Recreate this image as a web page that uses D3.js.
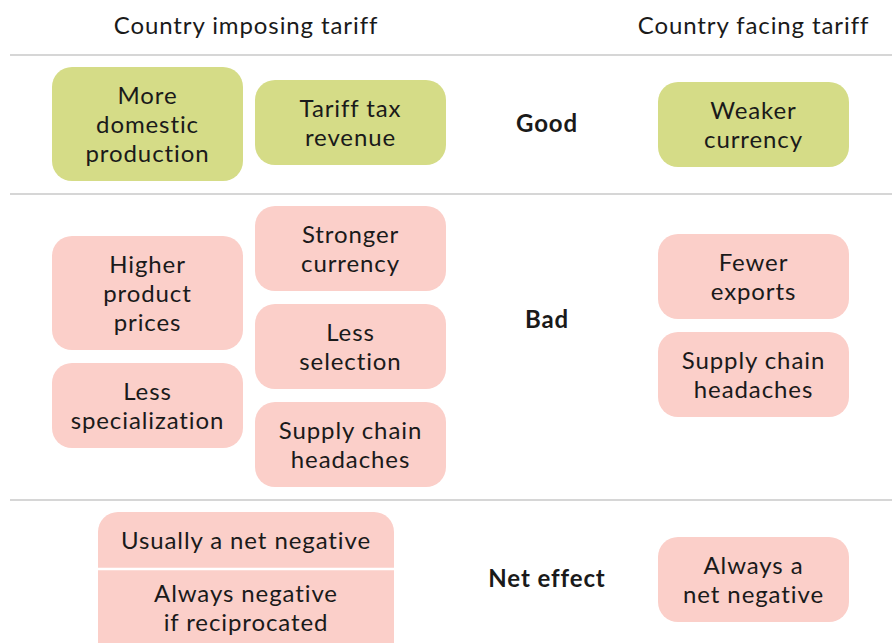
<!DOCTYPE html>
<html>
<head>
<meta charset="utf-8">
<script src="https://cdn.jsdelivr.net/npm/d3@7"></script>
<style>
  body { margin: 0; background: #fff; }
  text { font-family: Lato, "Noto Sans", sans-serif; fill: #1a1a1a; letter-spacing: 0.9px; }
</style>
</head>
<body>
<div id="chart"></div>
<script>
// Column headings and row labels
const headers = ["Country imposing tariff", "Country facing tariff"];
const rowLabels = ["Good", "Bad", "Net effect"];

// Boxes per row and column (each box is a list of text lines)
const goodImposingA = [["More", "domestic", "production"]];
const goodImposingB = [["Tariff tax", "revenue"]];
const goodFacing = [["Weaker", "currency"]];

const badImposingA = [["Higher", "product", "prices"], ["Less", "specialization"]];
const badImposingB = [["Stronger", "currency"], ["Less", "selection"], ["Supply chain", "headaches"]];
const badFacing = [["Fewer", "exports"], ["Supply chain", "headaches"]];

const netImposing = [["Usually a net negative"], ["Always negative", "if reciprocated"]];
const netFacing = [["Always a", "net negative"]];

const width = 892, height = 643;
const lineH = 29, padV = 27, gap = 13, boxW = 191;
const fontSize = "24px";

const svg = d3.select("#chart").append("svg")
    .attr("width", width)
    .attr("height", height);

// column centres
const colX = d3.scaleOrdinal()
    .domain(["imposingA", "imposing", "imposingB", "label", "facing"])
    .range([147.5, 246, 350.5, 547, 753.5]);

// row separator lines and label positions
const sepY = d3.scaleOrdinal().domain(["head", "Good", "Bad"]).range([55, 194, 500]);
const rowLabelY = d3.scaleOrdinal().domain(rowLabels).range([122, 318, 577]);

svg.selectAll(".sep")
    .data(sepY.domain())
    .join("line")
    .attr("class", "sep")
    .attr("x1", 10).attr("x2", width)
    .attr("y1", d => sepY(d))
    .attr("y2", d => sepY(d))
    .attr("stroke", "#c9c9c9")
    .attr("stroke-width", 1.5);

// headers
svg.selectAll(".header")
    .data(headers)
    .join("text")
    .attr("class", "header")
    .attr("x", (d, i) => colX(i === 0 ? "imposing" : "facing"))
    .attr("y", 24)
    .attr("text-anchor", "middle")
    .attr("dominant-baseline", "central")
    .style("font-size", fontSize)
    .text(d => d);

// row labels
svg.selectAll(".rowLabel")
    .data(rowLabels)
    .join("text")
    .attr("class", "rowLabel")
    .attr("x", colX("label"))
    .attr("y", d => rowLabelY(d))
    .attr("text-anchor", "middle")
    .attr("dominant-baseline", "central")
    .style("font-size", fontSize)
    .style("font-weight", "bold")
    .text(d => d);

// stacks of boxes: column, top of stack, fill
const green = "#d5dc87", pink = "#fbcfc9";
const stacks = [
    { col: "imposingA", top: 67, fill: green, items: goodImposingA },
    { col: "imposingB", top: 80, fill: green, items: goodImposingB },
    { col: "facing", top: 82, fill: green, items: goodFacing },
    { col: "imposingA", top: 236, fill: pink, items: badImposingA },
    { col: "imposingB", top: 206, fill: pink, items: badImposingB },
    { col: "facing", top: 234, fill: pink, items: badFacing },
    { col: "facing", top: 537, fill: pink, items: netFacing }
];

const boxes = [];
stacks.forEach(s => {
    let y = s.top;
    s.items.forEach(lines => {
        const h = lines.length * lineH + padV;
        boxes.push({ cx: colX(s.col), y, h, w: boxW, fill: s.fill, lines, dy: 0 });
        y += h + gap;
    });
});

const drawText = (g, b) => {
    g.selectAll(null)
        .data(b.lines)
        .join("text")
        .attr("x", b.cx)
        .attr("y", (d, i) => b.y + padV / 2 + lineH / 2 - 1 + b.dy + i * lineH)
        .attr("text-anchor", "middle")
        .attr("dominant-baseline", "central")
        .style("font-size", fontSize)
        .text(d => d);
};

const boxG = svg.selectAll(".box")
    .data(boxes)
    .join("g")
    .attr("class", "box");

boxG.append("rect")
    .attr("x", d => d.cx - d.w / 2)
    .attr("y", d => d.y)
    .attr("width", d => d.w)
    .attr("height", d => d.h)
    .attr("rx", 20)
    .attr("fill", d => d.fill);

boxG.each(function(d) { drawText(d3.select(this), d); });

// merged net-effect box for the imposing country
const netW = 296, netTop = 512;
const netParts = [];
let ny = netTop;
netImposing.forEach((lines, i) => {
    const h = lines.length * lineH + padV + 1;
    netParts.push({ cx: colX("imposing"), y: ny, h, w: netW, lines, dy: i === 0 ? 0 : -4 });
    ny += h;
});
const netG = svg.append("g");
netG.append("rect")
    .attr("x", colX("imposing") - netW / 2)
    .attr("y", netTop)
    .attr("width", netW)
    .attr("height", ny - netTop + 10)
    .attr("rx", 20)
    .attr("fill", pink);
netG.append("line")
    .attr("x1", colX("imposing") - netW / 2).attr("x2", colX("imposing") + netW / 2)
    .attr("y1", netParts[1].y).attr("y2", netParts[1].y)
    .attr("stroke", "#fff")
    .attr("stroke-width", 2.5);
netParts.forEach(p => drawText(netG, p));
</script>
</body>
</html>
